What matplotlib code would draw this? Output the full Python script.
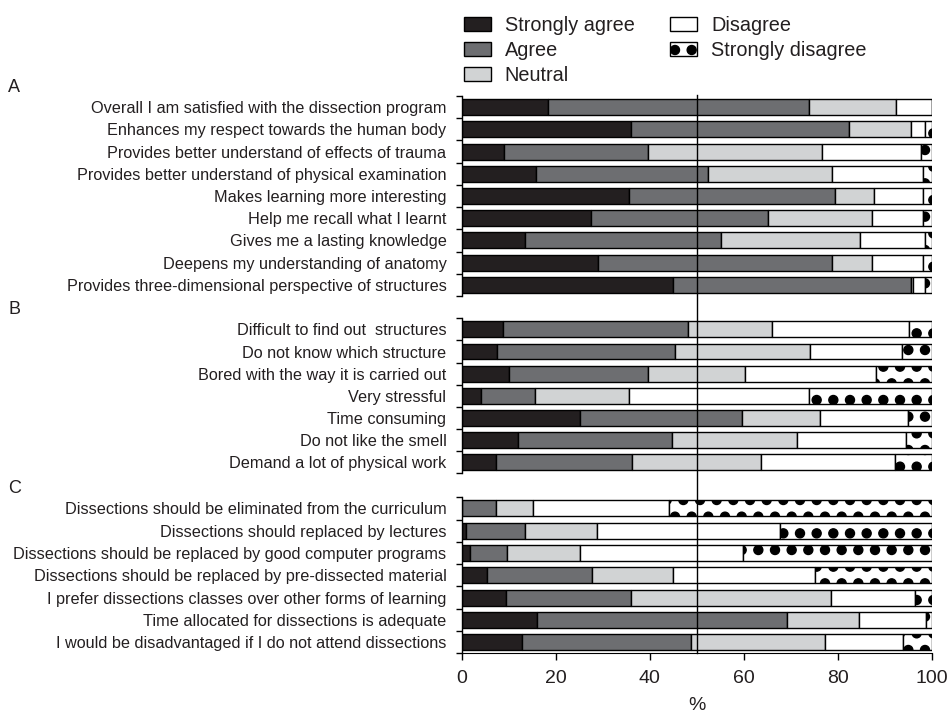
import numpy as np
import matplotlib
matplotlib.use("Agg")
import matplotlib.pyplot as plt
from matplotlib.patches import Patch
from matplotlib.lines import Line2D
import matplotlib.hatch as mhatch

plt.rcParams['font.family'] = ['Liberation Sans', 'DejaVu Sans']

# ---------------- data ----------------
categories = ["Strongly agree", "Agree", "Neutral", "Disagree", "Strongly disagree"]

labels_a = ["Overall I am satisfied with the dissection program",
            "Enhances my respect towards the human body",
            "Provides better understand of effects of trauma",
            "Provides better understand of physical examination",
            "Makes learning more interesting",
            "Help me recall what I learnt",
            "Gives me a lasting knowledge",
            "Deepens my understanding of anatomy",
            "Provides three-dimensional perspective of structures"]
sa_a = [18.3, 36.0, 9.0, 15.8, 35.5, 27.6, 13.4, 29.1, 45.0]
ag_a = [55.5, 46.4, 30.6, 36.5, 43.9, 37.6, 41.7, 49.6, 50.6]
ne_a = [18.5, 13.1, 37.1, 26.4, 8.3, 22.0, 29.7, 8.7, 0.5]
di_a = [7.7, 3.1, 21.0, 19.5, 10.5, 11.0, 13.8, 10.8, 2.5]
sd_a = [0.0, 1.4, 2.3, 1.8, 1.8, 1.8, 1.4, 1.8, 1.4]

labels_b = ["Difficult to find out  structures",
            "Do not know which structure",
            "Bored with the way it is carried out",
            "Very stressful",
            "Time consuming",
            "Do not like the smell",
            "Demand a lot of physical work"]
sa_b = [8.7, 7.6, 10.1, 4.2, 25.2, 11.9, 7.4]
ag_b = [39.5, 37.7, 29.5, 11.5, 34.4, 32.9, 28.8]
ne_b = [17.8, 28.7, 20.7, 20.0, 16.6, 26.5, 27.5]
di_b = [29.2, 19.7, 27.9, 38.2, 18.8, 23.2, 28.5]
sd_b = [4.8, 6.3, 11.8, 26.1, 5.0, 5.5, 7.8]

labels_c = ["Dissections should be eliminated from the curriculum",
            "Dissections should replaced by lectures",
            "Dissections should be replaced by good computer programs",
            "Dissections should be replaced by pre-dissected material",
            "I prefer dissections classes over other forms of learning",
            "Time allocated for dissections is adequate",
            "I would be disadvantaged if I do not attend dissections"]
sa_c = [0.0, 0.9, 1.8, 5.3, 9.4, 16.1, 12.9]
ag_c = [7.2, 12.5, 7.9, 22.4, 26.6, 53.1, 35.8]
ne_c = [7.9, 15.3, 15.4, 17.3, 42.6, 15.3, 28.6]
di_c = [29.0, 39.0, 34.7, 30.2, 17.9, 14.2, 16.5]
sd_c = [55.9, 32.3, 40.2, 24.8, 3.5, 1.3, 6.2]

xticks = [0, 20, 40, 60, 80, 100]
panel_names = ["A", "B", "C"]

# big filled dots for the "Strongly disagree" pattern
mhatch.LargeCircles.filled = True
mhatch.LargeCircles.size = 0.27

colors = ["#231f20", "#6d6e71", "#d1d3d4", "#ffffff", "#ffffff"]
hatches = [None, None, None, None, "O"]

fig = plt.figure(figsize=(9.51, 7.12), dpi=100)
W, H = 951.0, 712.0
left = 461.7 / W
width = (931.7 - 461.7) / W
panels = [
    (labels_a, [sa_a, ag_a, ne_a, di_a, sd_a], 96.0, 296.0),
    (labels_b, [sa_b, ag_b, ne_b, di_b, sd_b], 318.3, 473.3),
    (labels_c, [sa_c, ag_c, ne_c, di_c, sd_c], 497.3, 653.3),
]
axes = []
for pi, (labels, series, top, bot) in enumerate(panels):
    ax = fig.add_axes([left, 1 - bot / H, width, (bot - top) / H])
    n = len(labels)
    y = np.arange(n)
    cum = np.zeros(n)
    for ci, vals in enumerate(series):
        vals = np.array(vals)
        ax.barh(y, vals, left=cum, height=0.72, color=colors[ci],
                edgecolor="black", linewidth=1.0, hatch=hatches[ci], zorder=2)
        cum += vals
    ax.set_xlim(0, 100)
    ax.set_ylim(n - 0.5, -0.5)
    ax.set_yticks(y)
    ax.set_yticklabels(labels, fontsize=11.7, color="#231f20")
    ax.set_yticks(np.arange(n + 1) - 0.5, minor=True)
    ax.tick_params(axis="y", which="major", length=0, pad=11)
    ax.tick_params(axis="y", which="minor", length=4, width=1)
    for s in ["top", "right"]:
        ax.spines[s].set_visible(False)
    ax.spines["left"].set_linewidth(1)
    if pi < 2:
        ax.spines["bottom"].set_visible(False)
        ax.set_xticks([])
    else:
        ax.set_xticks(xticks)
        ax.tick_params(axis="x", labelsize=14, length=5, width=1, pad=7,
                       labelcolor="#231f20")
        ax.set_xlabel("%", fontsize=14, labelpad=7, color="#231f20")
    fig.text(8 / W, 1 - (top - 9) / H, panel_names[pi], fontsize=13,
             ha="left", va="center", color="#231f20")
    axes.append(ax)

# vertical reference line at 50 %
xf = left + width * 0.5
fig.add_artist(Line2D([xf, xf], [1 - 653.3 / H, 1 - 95 / H], color="black",
                      linewidth=1.0, transform=fig.transFigure, zorder=10))

handles = [Patch(facecolor=colors[i], edgecolor="black", hatch=hatches[i],
                 linewidth=1.0) for i in range(5)]
leg = fig.legend(handles, categories, ncol=2, loc="upper left",
                 bbox_to_anchor=(464 / W, 1 - 16 / H), frameon=False, fontsize=14.3,
                 handlelength=1.35, handleheight=0.7, handletextpad=0.7,
                 columnspacing=1.8, labelspacing=0.3, borderpad=0, borderaxespad=0)
for t in leg.get_texts():
    t.set_color("#231f20")

fig.savefig("out.png", dpi=100)
